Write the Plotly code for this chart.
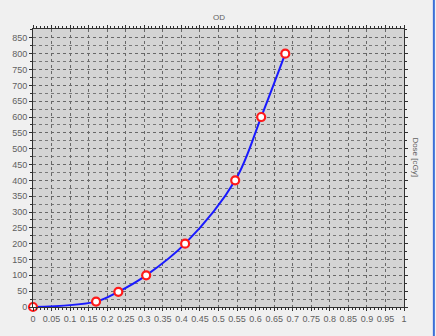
import plotly.graph_objects as go

od = [0, 0.17, 0.23, 0.305, 0.41, 0.545, 0.615, 0.68]
dose = [0, 17, 48, 100, 200, 400, 600, 800]
x_ticks = [i * 0.05 for i in range(21)]
x_labels = ["0", "0.05", "0.1", "0.15", "0.2", "0.25", "0.3", "0.35", "0.4", "0.45", "0.5",
            "0.55", "0.6", "0.65", "0.7", "0.75", "0.8", "0.85", "0.9", "0.95", "1"]

fig = go.Figure()
fig.add_trace(go.Scatter(
    x=od, y=dose, mode="lines+markers", cliponaxis=False,
    line=dict(color="#1a1aff", width=2, shape="spline", smoothing=1.0),
    marker=dict(symbol="circle", size=8, color="white", line=dict(color="#ff1a1a", width=2.2)),
    showlegend=False,
))

axis_font = dict(family="Liberation Sans", size=9, color="#606060")
fig.update_layout(
    width=436, height=336,
    margin=dict(l=29, r=32, t=29, b=27),
    paper_bgcolor="#f0f0f0",
    plot_bgcolor="#d4d4d4",
    xaxis=dict(
        range=[0, 1], tickmode="array", tickvals=x_ticks, ticktext=x_labels, tickangle=0,
        tickfont=axis_font, showline=True, linecolor="#303030", linewidth=1, mirror="ticks",
        ticks="outside", ticklen=3, tickcolor="#303030",
        showgrid=True, gridcolor="#686868", gridwidth=1, griddash="dot",
        minor=dict(dtick=0.01, ticks="outside", ticklen=2, tickcolor="#303030", showgrid=False),
        zeroline=False, fixedrange=True,
    ),
    yaxis=dict(
        range=[0, 878], dtick=50, tick0=0,
        tickfont=axis_font, showline=True, linecolor="#303030", linewidth=1, mirror="ticks",
        ticks="outside", ticklen=3, tickcolor="#303030",
        showgrid=True, gridcolor="#686868", gridwidth=1, griddash="dot",
        minor=dict(dtick=25, ticks="outside", ticklen=2, tickcolor="#303030",
                   showgrid=True, gridcolor="#787878", griddash="dot"),
        zeroline=False, fixedrange=True,
    ),
    annotations=[
        dict(text="OD", x=0.5, y=1, xref="paper", yref="paper", yanchor="bottom",
             yshift=5, showarrow=False, font=dict(family="Liberation Sans", size=8, color="#606060")),
        dict(text="Dose [cGy]", x=1, y=0.54, xref="paper", yref="paper", xanchor="left",
             xshift=5, textangle=90, showarrow=False,
             font=dict(family="Liberation Sans", size=8, color="#606060")),
    ],
    shapes=[
        dict(type="line", xref="paper", yref="paper", x0=1.0805, x1=1.0805, y0=-0.2, y1=1.2,
             line=dict(color="#3a6fd8", width=2)),
    ],
)

fig.write_html("out.html")
